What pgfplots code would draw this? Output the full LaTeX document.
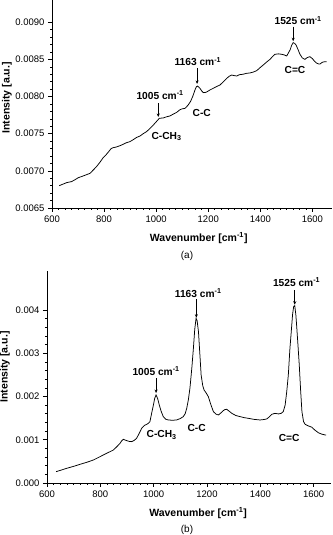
\documentclass[border=0pt]{standalone}
\usepackage{fontspec}
\setmainfont{Liberation Sans}
\usepackage{pgfplots}
\pgfplotsset{compat=1.18}
\usetikzlibrary{arrows.meta}

\pgfplotsset{
  raman/.style={
    scale only axis,
    axis lines*=left,
    tick align=outside,
    major tick length=4pt, minor tick length=2pt,
    tick style={black, line width=0.6pt},
    axis line style={line width=0.8pt},
    every tick label/.append style={font=\fontsize{9.5}{11}\selectfont},
    /pgf/number format/assume math mode=true,
    /pgf/number format/1000 sep={},
    label style={font=\fontsize{10.5}{12}\selectfont\bfseries},
    xtick={600,800,...,1600}, minor x tick num=7,
    scaled y ticks=false,
    clip=false,
  },
}
\tikzset{
  pk/.style={font=\fontsize{10.2}{12}\selectfont\bfseries, inner sep=0pt},
  arr/.style={-{Stealth[length=3.5pt,width=3pt]}, line width=0.8pt},
  spec/.style={black, line width=0.75pt, no marks},
}

\begin{document}
\begin{tikzpicture}[x=1pt,y=1pt]
\useasboundingbox (0,0) rectangle (332,535);
% --- panel (a) ---
\begin{axis}[
    raman, at={(52pt,327pt)}, width=280pt, height=208pt,
    xmin=600, xmax=1675, ymin=0.0065, ymax=0.0093,
    ytick={0.0065,0.0070,...,0.0091}, minor y tick num=4,
    yticklabel style={/pgf/number format/.cd, fixed, fixed zerofill, precision=4},
    xlabel={Wavenumber [cm\textsuperscript{-1}]},
    ylabel={Intensity [a.u.]},
    xlabel style={at={(axis description cs:0.524,0)}, anchor=center, yshift=-30pt},
    ylabel style={at={(axis description cs:-0.161,0.53)}, anchor=center},
]
\addplot[spec] coordinates {
  (628,0.006801) (640,0.006818) (656,0.006841) (665,0.006848) (675,0.006855) (688,0.006880)
  (701,0.006908) (715,0.006925) (730,0.006945) (746,0.006967) (758,0.007010) (771,0.007057)
  (785,0.007120) (796,0.007175) (807,0.007214) (818,0.007260) (827,0.007300) (835,0.007312)
  (848,0.007322) (861,0.007339) (872,0.007355) (885,0.007378) (899,0.007393) (912,0.007420)
  (925,0.007450) (938,0.007469) (950,0.007500) (963,0.007528) (976,0.007570) (989,0.007617)
  (1000,0.007660) (1012,0.007707) (1020,0.007710) (1027,0.007712) (1040,0.007728) (1053,0.007739)
  (1066,0.007765) (1079,0.007788) (1090,0.007820) (1098,0.007833) (1111,0.007842) (1123,0.007887)
  (1132,0.007935) (1140,0.007999) (1149,0.008089) (1154,0.008130) (1158,0.008142) (1163,0.008130)
  (1168,0.008111) (1175,0.008075) (1181,0.008053) (1188,0.008055) (1194,0.008062) (1207,0.008090)
  (1219,0.008111) (1232,0.008135) (1245,0.008156) (1258,0.008200) (1271,0.008246) (1281,0.008275)
  (1290,0.008290) (1300,0.008282) (1309,0.008277) (1320,0.008295) (1333,0.008300) (1347,0.008313)
  (1360,0.008318) (1373,0.008330) (1386,0.008349) (1399,0.008390) (1411,0.008425) (1424,0.008465)
  (1437,0.008501) (1447,0.008540) (1456,0.008569) (1470,0.008575) (1482,0.008569) (1492,0.008560)
  (1501,0.008546) (1508,0.008590) (1514,0.008627) (1520,0.008690) (1526,0.008726) (1532,0.008715)
  (1537,0.008694) (1545,0.008630) (1552,0.008569) (1561,0.008520) (1571,0.008501) (1580,0.008525)
  (1590,0.008537) (1600,0.008510) (1608,0.008475) (1616,0.008450) (1623,0.008440) (1629,0.008439)
  (1638,0.008462) (1648,0.008470) (1654,0.008468)
};
\node[pk] at (axis cs:1015,0.008021) {1005 cm\textsuperscript{-1}};
\draw[arr] (axis cs:1008,0.007913) -- (axis cs:1008,0.007725);
\node[pk] at (axis cs:1040,0.007460) {C-CH\textsubscript{3}};
\node[pk] at (axis cs:1160,0.008470) {1163 cm\textsuperscript{-1}};
\draw[arr] (axis cs:1157,0.008380) -- (axis cs:1157,0.008170);
\node[pk] at (axis cs:1175,0.007783) {C-C};
\node[pk] at (axis cs:1545,0.009021) {1525 cm\textsuperscript{-1}};
\draw[arr] (axis cs:1526,0.008941) -- (axis cs:1526,0.008745);
\node[pk] at (axis cs:1533,0.008358) {C=C};
\end{axis}
\node at (187,279) {\fontsize{10}{12}\selectfont(a)};
% --- panel (b) ---
\begin{axis}[
    raman, at={(47pt,52pt)}, width=284pt, height=212pt,
    xmin=600, xmax=1665, ymin=0, ymax=0.0049,
    ytick={0,0.001,...,0.0041}, minor y tick num=4,
    yticklabel style={/pgf/number format/.cd, fixed, fixed zerofill, precision=3},
    xlabel={Wavenumber [cm\textsuperscript{-1}]},
    ylabel={Intensity [a.u.]},
    xlabel style={at={(axis description cs:0.532,0)}, anchor=center, yshift=-30pt},
    ylabel style={at={(axis description cs:-0.148,0.547)}, anchor=center},
]
\addplot[spec] coordinates {
  (634,0.000262) (654,0.000300) (674,0.000340) (700,0.000385) (724,0.000432) (750,0.000480)
  (774,0.000532) (793,0.000590) (811,0.000647) (830,0.000705) (849,0.000763) (862,0.000840)
  (874,0.000917) (880,0.000975) (886,0.001010) (892,0.000995) (899,0.000979) (908,0.000962)
  (918,0.000956) (927,0.000985) (936,0.001033) (946,0.001150) (955,0.001264) (965,0.001330)
  (974,0.001356) (980,0.001380) (986,0.001418) (992,0.001600) (999,0.001803) (1004,0.001960)
  (1009,0.002035) (1015,0.001950) (1021,0.001803) (1028,0.001660) (1036,0.001534) (1045,0.001475)
  (1055,0.001457) (1070,0.001450) (1086,0.001457) (1100,0.001490) (1111,0.001534) (1118,0.001600)
  (1124,0.001726) (1130,0.001920) (1136,0.002190) (1143,0.002650) (1149,0.003114) (1154,0.003550)
  (1159,0.003807) (1163,0.003750) (1168,0.003499) (1173,0.003000) (1178,0.002497) (1184,0.002250)
  (1189,0.002150) (1197,0.002080) (1205,0.001996) (1214,0.001820) (1224,0.001649) (1234,0.001590)
  (1243,0.001572) (1252,0.001620) (1261,0.001673) (1268,0.001700) (1274,0.001703) (1283,0.001660)
  (1293,0.001611) (1308,0.001560) (1324,0.001534) (1340,0.001510) (1355,0.001495) (1377,0.001470)
  (1399,0.001457) (1411,0.001465) (1424,0.001480) (1434,0.001530) (1443,0.001588) (1455,0.001610)
  (1468,0.001596) (1478,0.001610) (1486,0.001649) (1493,0.001800) (1499,0.002111) (1505,0.002500)
  (1511,0.003114) (1516,0.003500) (1521,0.003900) (1525,0.004080) (1529,0.004100) (1533,0.003900)
  (1536,0.003653) (1541,0.003200) (1546,0.002728) (1551,0.002150) (1556,0.001649) (1562,0.001420)
  (1568,0.001356) (1580,0.001320) (1593,0.001290) (1605,0.001220) (1618,0.001160) (1630,0.001130)
  (1643,0.001110) (1647,0.001110)
};
\node[pk] at (axis cs:1009,0.00259) {1005 cm\textsuperscript{-1}};
\draw[arr] (axis cs:1009,0.00242) -- (axis cs:1009,0.00208);
\node[pk] at (axis cs:1030,0.00111) {C-CH\textsubscript{3}};
\node[pk] at (axis cs:1167,0.00439) {1163 cm\textsuperscript{-1}};
\draw[arr] (axis cs:1160,0.00425) -- (axis cs:1160,0.00382);
\node[pk] at (axis cs:1161,0.00128) {C-C};
\node[pk] at (axis cs:1536,0.00464) {1525 cm\textsuperscript{-1}};
\draw[arr] (axis cs:1529,0.00446) -- (axis cs:1529,0.00412);
\node[pk] at (axis cs:1508,0.00103) {C=C};
\end{axis}
\node at (187,5) {\fontsize{10}{12}\selectfont(b)};
\end{tikzpicture}
\end{document}
